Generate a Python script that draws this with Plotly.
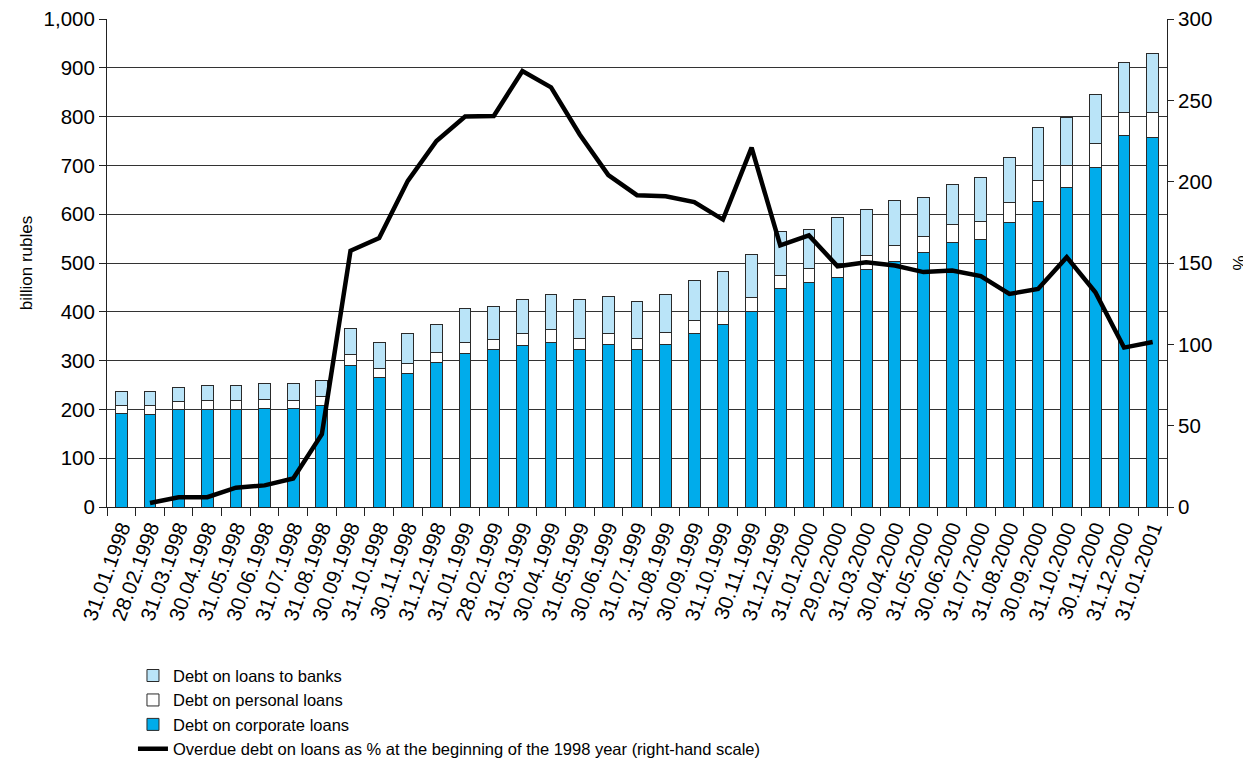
import plotly.graph_objects as go

dates = ["31.01.1998", "28.02.1998", "31.03.1998", "30.04.1998", "31.05.1998", "30.06.1998",
         "31.07.1998", "31.08.1998", "30.09.1998", "31.10.1998", "30.11.1998", "31.12.1998",
         "31.01.1999", "28.02.1999", "31.03.1999", "30.04.1999", "31.05.1999", "30.06.1999",
         "31.07.1999", "31.08.1999", "30.09.1999", "31.10.1999", "30.11.1999", "31.12.1999",
         "31.01.2000", "29.02.2000", "31.03.2000", "30.04.2000", "31.05.2000", "30.06.2000",
         "31.07.2000", "31.08.2000", "30.09.2000", "31.10.2000", "30.11.2000", "31.12.2000",
         "31.01.2001"]

corporate = [191, 190, 199, 200, 200, 202, 201, 207, 289, 266, 273, 297,
             315, 322, 331, 338, 323, 334, 322, 332, 356, 373, 400, 447,
             460, 471, 486, 504, 522, 543, 549, 584, 626, 655, 696, 762, 758]
personal = [17, 17, 17, 19, 18, 19, 18, 20, 23, 18, 21, 20,
            23, 22, 24, 25, 23, 22, 24, 25, 27, 28, 29, 28,
            29, 29, 29, 31, 33, 36, 37, 40, 43, 45, 49, 46, 50]
banks = [29, 30, 29, 31, 31, 33, 34, 33, 54, 54, 62, 58,
         68, 67, 70, 73, 79, 75, 76, 79, 82, 81, 89, 89,
         79, 93, 94, 94, 80, 82, 89, 92, 109, 98, 100, 103, 122]
overdue_pct = [None, 2.5, 6.0, 6.0, 11.9, 13.3, 17.5, 44.8, 157.5, 165.3, 200.5, 225.0,
               240.0, 240.4, 268.0, 258.0, 229.0, 204.0, 191.7, 191.0, 187.4, 176.7, 220.9, 160.9,
               167.0, 148.0, 150.5, 148.5, 144.4, 145.4, 142.0, 131.0, 134.0, 153.6, 132.0, 98.0, 101.4]

FONT = "Liberation Sans, Arial, Helvetica, sans-serif"
OUTLINE = "#2a2a2a"

fig = go.Figure()
fig.add_trace(go.Bar(x=dates, y=corporate, name="Debt on corporate loans",
                     marker=dict(color="#00ACEB", line=dict(color=OUTLINE, width=1)),
                     legendrank=3))
fig.add_trace(go.Bar(x=dates, y=personal, name="Debt on personal loans",
                     marker=dict(color="#FFFFFF", line=dict(color=OUTLINE, width=1)),
                     legendrank=2))
fig.add_trace(go.Bar(x=dates, y=banks, name="Debt on loans to banks",
                     marker=dict(color="#BAE4F8", line=dict(color=OUTLINE, width=1)),
                     legendrank=1))
fig.add_trace(go.Scatter(x=dates, y=overdue_pct, yaxis="y2", mode="lines",
                         name="Overdue debt on loans as % at the beginning of the 1998 year (right-hand scale)",
                         line=dict(color="#000000", width=4.5), legendrank=4))

fig.update_layout(
    width=1251, height=781,
    margin=dict(l=99, r=92, t=11, b=282),
    paper_bgcolor="white", plot_bgcolor="white",
    barmode="stack", bargap=0.59,
    font=dict(family=FONT, color="black", size=20),
    showlegend=True,
    legend=dict(x=0.0245, y=-0.310, xanchor="left", yanchor="top",
                traceorder="normal", font=dict(size=16.5, family=FONT),
                itemwidth=30, tracegroupgap=0, bgcolor="rgba(0,0,0,0)"),
    xaxis=dict(type="category", tickangle=-70, dtick=1, tickson="boundaries",
               ticks="outside", ticklen=8, tickcolor="#222", showline=True,
               linecolor="#222", linewidth=1, showgrid=False,
               tickfont=dict(size=20.5), automargin=False, ticklabeloverflow="allow"),
    yaxis=dict(range=[0, 1000], dtick=100, tickformat=",d", showgrid=True,
               gridcolor="#333333", gridwidth=1, showline=True, linecolor="#222",
               linewidth=1, ticks="outside", ticklen=7, tickcolor="#222",
               tickfont=dict(size=20.5), zeroline=False, automargin=False,
               ticklabeloverflow="allow",
               title=dict(text="billion rubles", font=dict(size=17), standoff=6)),
    yaxis2=dict(range=[0, 300], dtick=50, overlaying="y", side="right",
                showgrid=False, showline=True, linecolor="#222", linewidth=1,
                ticks="outside", ticklen=6, tickcolor="#222", zeroline=False,
                tickfont=dict(size=20.5), automargin=False,
                ticklabeloverflow="allow",
                title=dict(text="%", font=dict(size=17), standoff=21)),
)

fig.write_html("out.html")
